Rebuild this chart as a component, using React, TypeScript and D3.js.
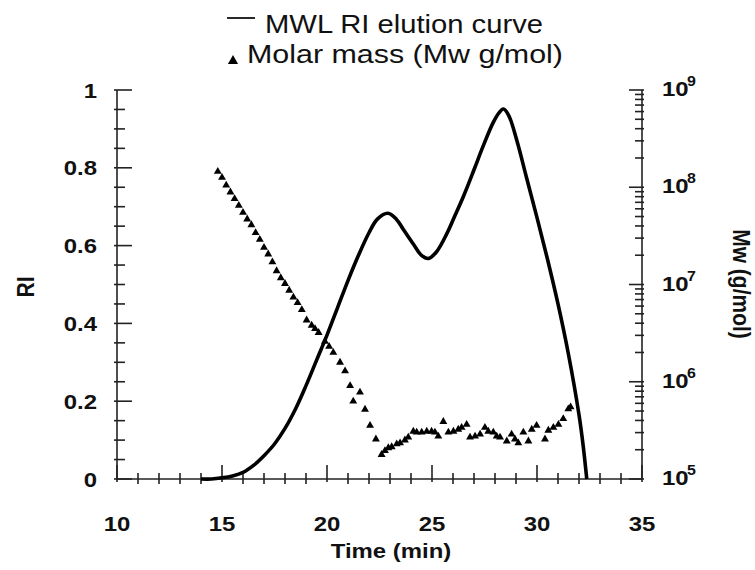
import React from "react";
import * as d3 from "d3";

// ---- data ----
const RI_TIME = [14.0, 14.5, 15.0, 15.5, 16.0, 16.5, 17.0, 17.5, 18.0, 18.5, 19.0, 19.5, 20.0, 20.5, 21.0, 21.5, 22.0, 22.4, 22.9, 23.3, 23.63, 24.11, 24.5, 24.83, 25.2, 25.7, 26.1, 26.5, 27.0, 27.43, 27.9, 28.2, 28.4, 28.65, 29.03, 29.5, 30.0, 30.5, 31.0, 31.5, 32.0, 32.2, 32.37];
const RI_VALUE = [0, 0, 0.003, 0.008, 0.017, 0.035, 0.06, 0.09, 0.13, 0.18, 0.24, 0.305, 0.37, 0.44, 0.51, 0.575, 0.633, 0.668, 0.683, 0.668, 0.642, 0.604, 0.575, 0.567, 0.583, 0.63, 0.678, 0.727, 0.795, 0.855, 0.915, 0.942, 0.951, 0.935, 0.872, 0.775, 0.672, 0.565, 0.45, 0.32, 0.165, 0.085, 0];

const MW_TIME = [14.8, 15.0, 15.2, 15.4, 15.6, 15.8, 16.0, 16.2, 16.4, 16.6, 16.8, 17.0, 17.2, 17.4, 17.6, 17.8, 18.0, 18.2, 18.4, 18.6, 18.8, 19.03, 19.27, 19.43, 19.6, 19.9, 20.1, 20.3, 20.62, 20.86, 21.1, 21.25, 21.57, 21.81, 22.05, 22.33, 22.6, 22.76, 22.92, 23.08, 23.32, 23.48, 23.71, 23.87, 24.11, 24.27, 24.51, 24.75, 24.98, 25.14, 25.3, 25.54, 25.78, 26.02, 26.25, 26.41, 26.65, 26.81, 27.05, 27.29, 27.52, 27.68, 27.92, 28.08, 28.24, 28.56, 28.79, 28.95, 29.11, 29.35, 29.59, 29.75, 29.98, 30.38, 30.54, 30.78, 31.02, 31.25, 31.49, 31.6];
const MW_VALUE = [1.45e8, 1.26e8, 1.05e8, 8.9e7, 7.6e7, 6.5e7, 5.5e7, 4.7e7, 4.1e7, 3.4e7, 2.9e7, 2.4e7, 2.05e7, 1.7e7, 1.38e7, 1.17e7, 1.02e7, 8.7e6, 7.4e6, 6.5e6, 5.5e6, 4.3e6, 3.8e6, 3.5e6, 3.2e6, 2.6e6, 2.3e6, 2.0e6, 1.58e6, 1.29e6, 9.1e5, 6.3e5, 7.8e5, 5.2e5, 3.55e5, 2.57e5, 1.78e5, 1.95e5, 2.09e5, 2.14e5, 2.29e5, 2.34e5, 2.51e5, 2.69e5, 3.09e5, 3.02e5, 3.02e5, 3.09e5, 3.09e5, 3.02e5, 2.75e5, 3.89e5, 3.02e5, 3.09e5, 3.24e5, 3.39e5, 3.63e5, 2.69e5, 2.75e5, 2.88e5, 3.39e5, 3.09e5, 3.02e5, 2.75e5, 2.69e5, 2.45e5, 2.88e5, 2.57e5, 2.34e5, 3.02e5, 2.45e5, 3.24e5, 3.55e5, 2.57e5, 3.16e5, 3.39e5, 3.63e5, 4.17e5, 5.25e5, 5.5e5];

const X_TICKS = [10, 15, 20, 25, 30, 35];
const RI_TICKS = [0, 0.2, 0.4, 0.6, 0.8, 1];
const MW_TICKS = [1e5, 1e6, 1e7, 1e8, 1e9];
const LEGEND = ["MWL RI elution curve", "Molar mass (Mw g/mol)"];

const FONT = "'Liberation Sans', Arial, sans-serif";
const SX = 1.14;

function SText(props: { x: number; y: number; anchor?: string; size: number; bold?: boolean; rot?: number; children: React.ReactNode }) {
  const { x, y, anchor = "start", size, bold = false, rot = 0, children } = props;
  return (
    <text
      transform={`translate(${x},${y}) scale(${SX},1) rotate(${rot})`}
      textAnchor={anchor}
      fontFamily={FONT}
      fontSize={size}
      fontWeight={bold ? "bold" : "normal"}
      fill="#111"
    >
      {children}
    </text>
  );
}

export default function App() {
  const x = d3.scaleLinear().domain([10, 35]).range([117, 642]);
  const yRI = d3.scaleLinear().domain([0, 1]).range([479, 90]);
  const yMw = d3.scaleLog().domain([1e5, 1e9]).range([479, 90]);

  const riData = RI_TIME.map((t, i) => [t, RI_VALUE[i]] as [number, number]);
  const line = d3
    .line<[number, number]>()
    .x((d) => x(d[0]))
    .y((d) => Math.min(yRI(0), yRI(d[1])))
    .curve(d3.curveCatmullRom.alpha(0.5));

  const tri = d3.symbol().type(d3.symbolTriangle).size(27)() as string;
  const triLegend = d3.symbol().type(d3.symbolTriangle).size(45)() as string;

  const xMinor = d3.range(10, 35.01, 1);
  const riMinor = d3.range(0, 1.001, 0.05);
  const mwMinor: number[] = [];
  for (let e = 5; e < 9; e++) for (let k = 2; k <= 9; k++) mwMinor.push(k * Math.pow(10, e));

  const [x0, x1] = x.range();
  const yb = yRI(0);
  const yt = yRI(1);

  return (
    <svg width={755} height={570} style={{ position: "absolute", left: 0, top: 0, background: "#fff" }}>
      <rect width={755} height={570} fill="#fff" />
      {/* axes lines */}
      <g stroke="#222" strokeWidth={1.6} fill="none">
        <line x1={x0} x2={x1} y1={yb} y2={yb} />
        <line x1={x0} x2={x0} y1={yb} y2={yt} />
        <line x1={x1} x2={x1} y1={yRI(0)} y2={yt} />
        {/* x ticks */}
        {xMinor.map((t) => {
          const major = Math.round(t) % 5 === 0;
          return <line key={"xm" + t} x1={x(t)} x2={x(t)} y1={yb + (major ? 3 : 5)} y2={yb - (major ? 14 : 6)} />;
        })}
        {/* left ticks */}
        {riMinor.map((v) => {
          const major = Math.abs(v * 5 - Math.round(v * 5)) < 1e-6;
          return <line key={"rm" + v} x1={x0 - 3} x2={x0 + (major ? 15 : 8)} y1={yRI(v)} y2={yRI(v)} />;
        })}
        {/* right ticks */}
        {MW_TICKS.map((v) => (
          <line key={"mM" + v} x1={x1 + 2} x2={x1 - 13} y1={yMw(v)} y2={yMw(v)} />
        ))}
        {mwMinor.map((v) => (
          <line key={"mm" + v} x1={x1 + 2} x2={x1 - 7} y1={yMw(v)} y2={yMw(v)} />
        ))}
      </g>

      {/* tick labels */}
      {X_TICKS.map((t) => (
        <SText key={"xl" + t} x={x(t)} y={531} anchor="middle" size={21} bold>
          {t}
        </SText>
      ))}
      {RI_TICKS.map((v) => (
        <SText key={"yl" + v} x={97} y={yRI(v) + 7.5} anchor="end" size={21} bold>
          {String(v)}
        </SText>
      ))}
      {MW_TICKS.map((v) => (
        <g key={"ml" + v}>
          <SText x={662} y={yMw(v) + 6} size={21} bold>
            10
          </SText>
          <SText x={687} y={yMw(v) - 4} size={14} bold>
            {Math.round(Math.log10(v))}
          </SText>
        </g>
      ))}

      {/* axis titles */}
      <SText x={391} y={558} anchor="middle" size={21} bold>
        Time (min)
      </SText>
      <SText x={34} y={287} anchor="middle" size={21} bold rot={-90}>
        RI
      </SText>
      <SText x={733} y={284} anchor="middle" size={21} bold rot={90}>
        Mw (g/mol)
      </SText>

      {/* Mw triangles */}
      {MW_TIME.map((t, i) => (
        <path key={"t" + i} d={tri} transform={`translate(${x(t)},${yMw(MW_VALUE[i])})`} fill="#000" />
      ))}

      {/* RI curve */}
      <path d={line(riData) as string} fill="none" stroke="#000" strokeWidth={3.6} strokeLinejoin="round" />

      {/* legend */}
      <line x1={227} x2={255} y1={18} y2={18} stroke="#111" strokeWidth={1.8} />
      <text x={265} y={33} fontFamily={FONT} fontSize={25} fill="#111" textLength={278} lengthAdjust="spacingAndGlyphs">
        {LEGEND[0]}
      </text>
      <path d={triLegend} transform="translate(233,61)" fill="#000" />
      <text x={247} y={63} fontFamily={FONT} fontSize={25} fill="#111" textLength={316} lengthAdjust="spacingAndGlyphs">
        {LEGEND[1]}
      </text>
    </svg>
  );
}
